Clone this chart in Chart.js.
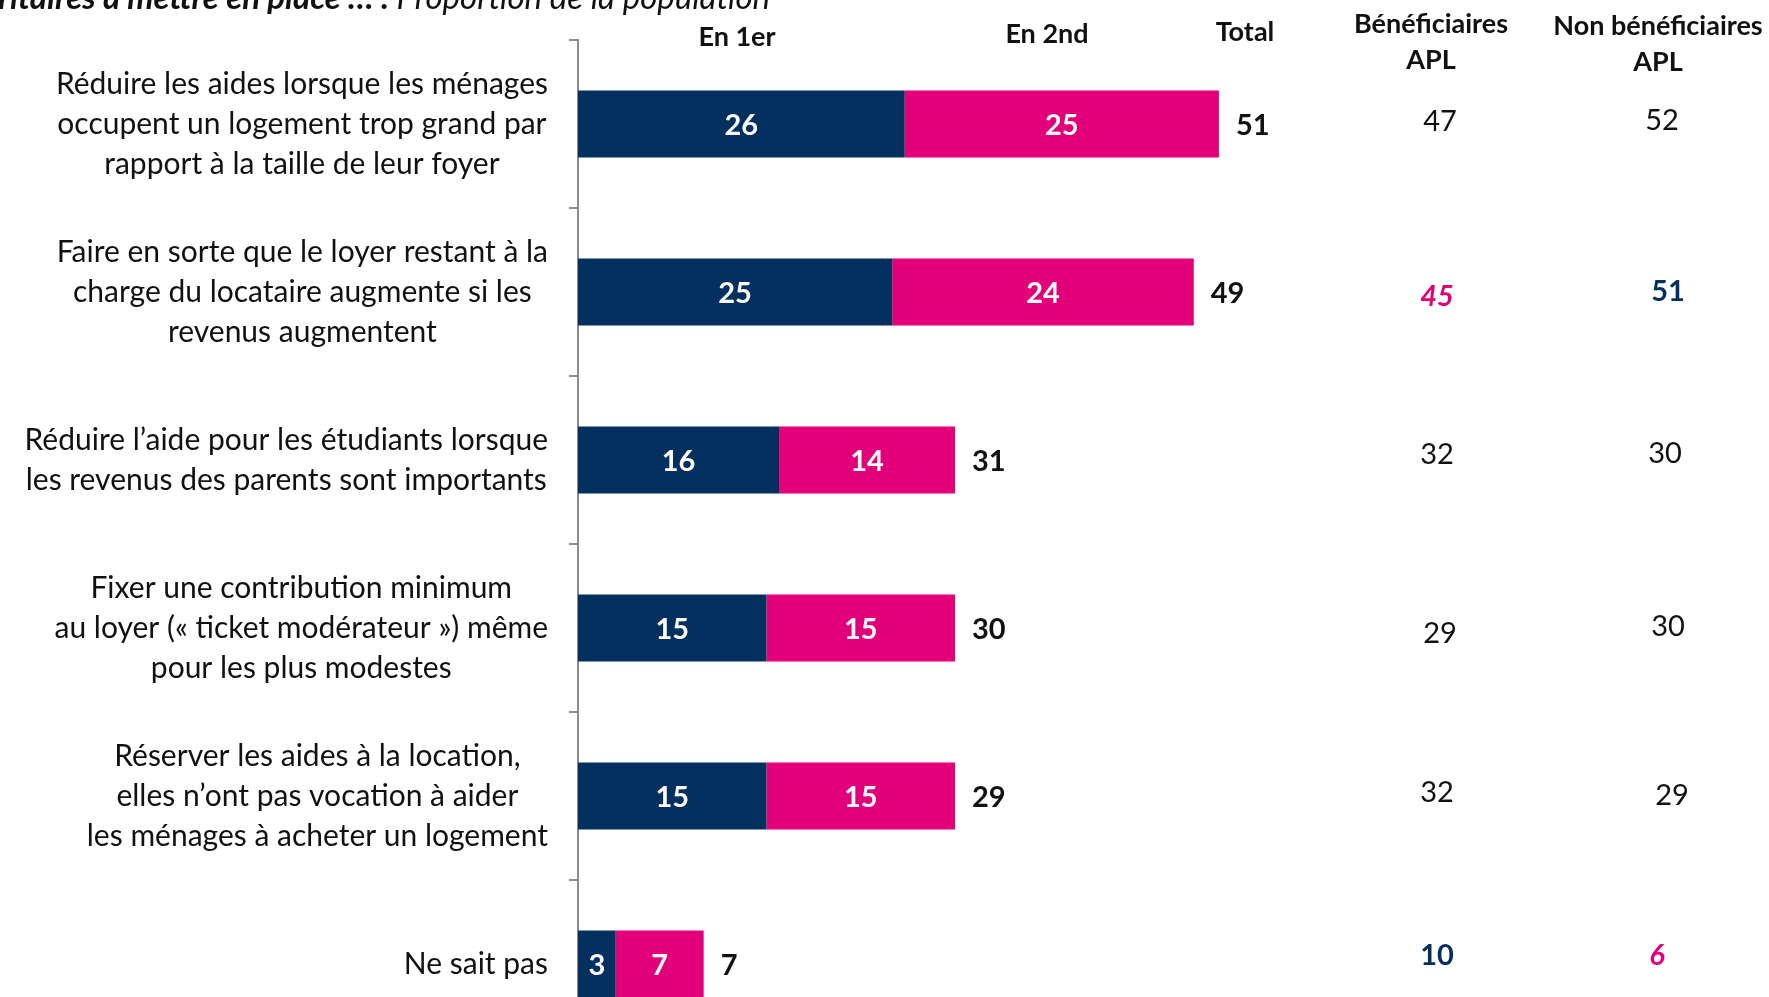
<!DOCTYPE html>
<html>
<head>
<meta charset="utf-8">
<script src="https://cdn.jsdelivr.net/npm/chart.js@4.4.1/dist/chart.umd.min.js"></script>
<style>
  html, body { margin: 0; padding: 0; overflow: hidden; background: #fff; }
  #wrap { width: 1769px; height: 1060px; }
</style>
</head>
<body>
<div id="wrap"><canvas id="chart" width="1769" height="1060"></canvas></div>
<script>
// Data
const categories = [
  ["Réduire les aides lorsque les ménages", "occupent un logement trop grand par", "rapport à la taille de leur foyer"],
  ["Faire en sorte que le loyer restant à la", "charge du locataire augmente si les", "revenus augmentent"],
  ["Réduire l’aide pour les étudiants lorsque", "les revenus des parents sont importants"],
  ["Fixer une contribution minimum", "au loyer (« ticket modérateur ») même", "pour les plus modestes"],
  ["Réserver les aides à la location,", "elles n’ont pas vocation à aider", "les ménages à acheter un logement"],
  ["Ne sait pas"]
];
const firstChoice = [26, 25, 16, 15, 15, 3];
const secondChoice = [25, 24, 14, 15, 15, 7];
const totals = [51, 49, 31, 30, 29, 7];
const aplBenef = [47, 45, 32, 29, 32, 10];
const aplNonBenef = [52, 51, 30, 30, 29, 6];
// +1 = significantly higher, -1 = significantly lower
const benefSig = [0, -1, 0, 0, 0, 1];
const nonBenefSig = [0, 1, 0, 0, 0, -1];

// small hand nudges of the APL text boxes (px)
const benefNudge = [[3, 1], [0, 8], [0, -2], [3, 9], [0, 0], [0, -5]];
const nonBenefNudge = [[-3, 0], [3, 3], [0, -3], [3, 2], [7, 3], [-8, -5]];

const NAVY = "#03305f";
const PINK = "#e2007a";
const FONT = "Lato, 'Open Sans', sans-serif";

const canvas = document.getElementById("chart");
const ctx = canvas.getContext("2d");

function drawSig(c, txt, x, y, sig) {
  if (sig > 0) { c.fillStyle = NAVY; c.font = `bold 29px ${FONT}`; }
  else if (sig < 0) { c.fillStyle = PINK; c.font = `italic bold 29px ${FONT}`; }
  else { c.fillStyle = "#111"; c.font = `29px ${FONT}`; }
  c.fillText(txt, x, y);
}

const textPlugin = {
  id: "texts",
  afterDatasetsDraw(chart) {
    const c = chart.ctx;
    const yScale = chart.scales.y;
    c.save();
    c.textBaseline = "middle";

    // values inside the bars
    c.fillStyle = "#fff";
    c.font = `bold 29px ${FONT}`;
    c.textAlign = "center";
    chart.data.datasets.forEach((ds, di) => {
      chart.getDatasetMeta(di).data.forEach((bar, i) => {
        const mid = (bar.x + bar.base) / 2;
        c.fillText(String(ds.data[i]), mid, bar.y + 2);
      });
    });

    // totals at bar end
    c.fillStyle = "#111";
    c.textAlign = "left";
    const last = chart.getDatasetMeta(1).data;
    last.forEach((bar, i) => c.fillText(String(totals[i]), bar.x + 17, bar.y + 2));

    // category labels: block right aligned, lines centred inside the block
    c.font = `30px ${FONT}`;
    c.fillStyle = "#111";
    c.textAlign = "center";
    const right = 548, lh = 40;
    chart.data.labels.forEach((lines, i) => {
      const yc = yScale.getPixelForValue(i);
      const w = Math.max(...lines.map(l => c.measureText(l).width));
      lines.forEach((l, j) => {
        c.fillText(l, right - w / 2, yc + (j - (lines.length - 1) / 2) * lh);
      });
    });

    // APL columns
    c.textAlign = "center";
    categories.forEach((_, i) => {
      const yc = yScale.getPixelForValue(i) - 3;
      drawSig(c, String(aplBenef[i]), 1437 + benefNudge[i][0], yc + benefNudge[i][1], benefSig[i]);
      drawSig(c, String(aplNonBenef[i]), 1665 + nonBenefNudge[i][0], yc + nonBenefNudge[i][1], nonBenefSig[i]);
    });

    // column headers
    c.fillStyle = "#111";
    c.font = `bold 27px ${FONT}`;
    c.fillText("En 1er", 737, 37);
    c.fillText("En 2nd", 1047, 34);
    c.fillText("Total", 1245, 32);
    c.fillText("Bénéficiaires", 1431, 24);
    c.fillText("APL", 1431, 60);
    c.fillText("Non bénéficiaires", 1658, 26);
    c.fillText("APL", 1658, 62);

    // title (partly above the page)
    c.textBaseline = "alphabetic";
    c.textAlign = "right";
    c.font = `italic 33px ${FONT}`;
    const sub = "Proportion de la population";
    c.fillText(sub, 770, 9);
    const subW = c.measureText(sub).width;
    c.font = `italic bold 33px ${FONT}`;
    c.fillText("prioritaires à mettre en place … : ", 770 - subW, 9);
    c.restore();
  }
};

new Chart(ctx, {
  type: "bar",
  data: {
    labels: categories,
    datasets: [
      { label: "En 1er", data: firstChoice, backgroundColor: NAVY, barPercentage: 0.4, categoryPercentage: 1 },
      { label: "En 2nd", data: secondChoice, backgroundColor: PINK, barPercentage: 0.4, categoryPercentage: 1 }
    ]
  },
  options: {
    indexAxis: "y",
    responsive: false,
    animation: false,
    layout: { padding: { top: 40, right: 60, bottom: 12, left: 0 } },
    plugins: { legend: { display: false }, tooltip: { enabled: false } },
    scales: {
      x: { stacked: true, min: 0, max: 90, display: false },
      y: {
        stacked: true,
        grid: { offset: true, drawOnChartArea: false, tickLength: 9, color: "#8c8c8c", lineWidth: 2 },
        border: { color: "#8c8c8c", width: 2 },
        ticks: { display: false },
        afterFit(scale) { scale.width = 578; }
      }
    }
  },
  plugins: [textPlugin]
});
</script>
</body>
</html>
